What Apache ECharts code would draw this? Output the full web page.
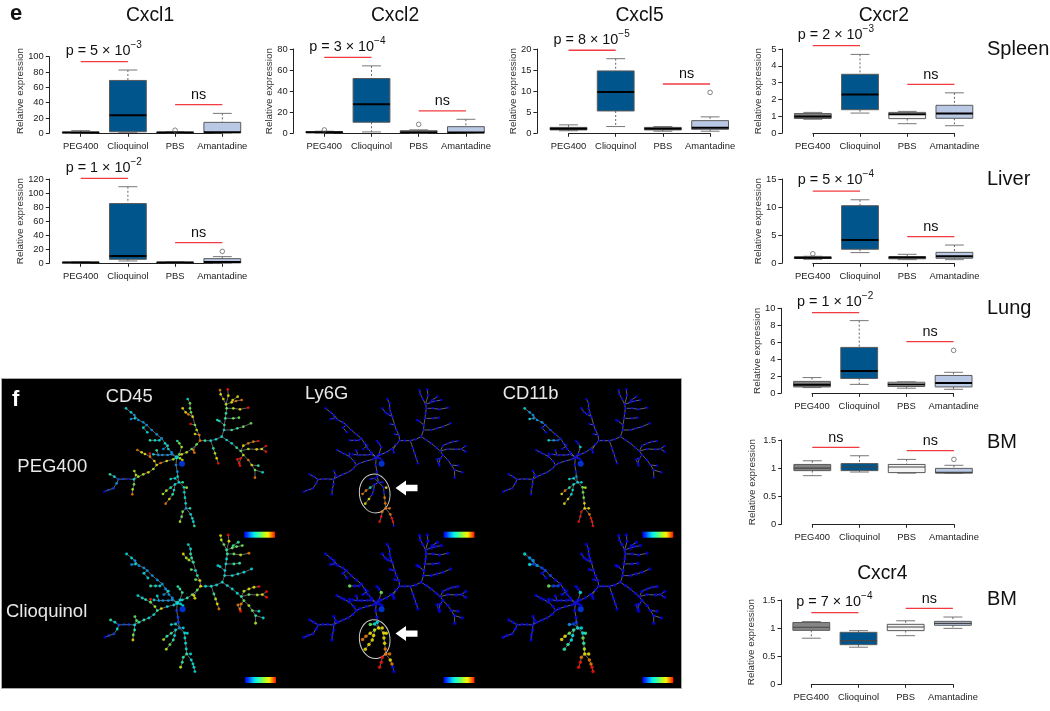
<!DOCTYPE html>
<html><head><meta charset="utf-8">
<style>html,body{margin:0;padding:0;background:#fff}#c{width:1050px;height:711px}</style>
<script src="https://cdn.jsdelivr.net/npm/echarts@6/dist/echarts.min.js"></script>
</head><body><div id="c"></div>
<script>
const categories = ['PEG400','Clioquinol','PBS','Amantadine'];
const boxColors = ['#858585','#00568c','#f4f4f4','#b9c8e4'];

// [min, q1, median, q3, max] for each group
const cxcl1Spleen = [[0.3,0.5,1,1.5,3.5],[1.3,2,23.5,69,82.6],[0.3,0.5,1,1.5,2],[0.5,0.8,1.3,14.3,26]];
const cxcl2Spleen = [[0.3,0.6,1,1.5,2],[1.3,10.5,27.5,52,64],[0.3,0.5,1,2.5,3.3],[0.3,0.5,0.8,6.3,13.3]];
const cxcl5Spleen = [[0.6,0.8,1.1,1.4,2],[1.6,5.3,9.8,14.8,17.7],[0.5,0.8,1.1,1.4,1.6],[0.5,0.95,1.3,3,3.9]];
const cxcr2Spleen = [[0.83,0.88,1,1.17,1.24],[1.2,1.4,2.3,3.5,4.68],[0.57,0.87,1.13,1.24,1.3],[0.45,0.89,1.17,1.66,2.4]];
const cxcl1Liver = [[0.3,0.5,1,1.5,2],[3.3,5.7,10.5,85,109],[0.3,0.5,1,1.5,2],[0.3,0.5,2,6.6,9.5]];
const cxcr2Liver = [[0.7,0.85,1,1.15,1.25],[1.9,2.5,4.15,10.25,11.3],[0.65,0.8,1.05,1.2,1.6],[0.65,0.9,1.25,1.95,3.25]];
const cxcr2Lung = [[0.67,0.75,1,1.4,1.85],[1.05,1.75,2.63,5.4,8.55],[0.6,0.8,1.05,1.3,1.35],[0.47,0.75,1.2,2.1,2.47]];
const cxcr2BM = [[0.865,0.955,1,1.065,1.13],[0.93,0.955,1.02,1.08,1.22],[0.91,0.92,1.02,1.065,1.155],[0.905,0.91,0.925,0.995,1.05]];
const cxcr4BM = [[0.82,0.96,1.015,1.1,1.115],[0.66,0.705,0.777,0.925,0.955],[0.865,0.955,1.02,1.067,1.13],[0.995,1.05,1.085,1.12,1.197]];

// outliers: [group position, value]
const cxcl1SpleenOut = [[3,4]];
const cxcl2SpleenOut = [[1,3.2],[3,8.5]];
const cxcl5SpleenOut = [[4,9.7]];
const cxcr2SpleenOut = [];
const cxcl1LiverOut = [[4,17]];
const cxcr2LiverOut = [[1,1.7]];
const cxcr2LungOut = [[4,5.05]];
const cxcr2BMOut = [[4,1.155]];
const cxcr4BMOut = [];

// significance bars: [from, to, value, text, exponent]
const cxcl1SpleenSig = [[1,2,93.5,'p = 5 × 10','−3'],[3,4,37.4,'ns','']];
const cxcl2SpleenSig = [[1,2,72,'p = 3 × 10','−4'],[3,4,21.2,'ns','']];
const cxcl5SpleenSig = [[1,2,19.7,'p = 8 × 10','−5'],[3,4,11.7,'ns','']];
const cxcr2SpleenSig = [[1,2,5.2,'p = 2 × 10','−3'],[3,4,2.9,'ns','']];
const cxcl1LiverSig = [[1,2,121,'p = 1 × 10','−2'],[3,4,29.4,'ns','']];
const cxcr2LiverSig = [[1,2,12.86,'p = 5 × 10','−4'],[3,4,4.74,'ns','']];
const cxcr2LungSig = [[1,2,9.5,'p = 1 × 10','−2'],[3,4,6.08,'ns','']];
const cxcr2BMSig = [[1,2,1.37,'ns',''],[3,4,1.31,'ns','']];
const cxcr4BMSig = [[1,2,1.275,'p = 7 × 10','−4'],[3,4,1.35,'ns','']];

// Spanning tree layout (shared by all six maps). First point of each branch is its attachment point.
const treeHub = [530,247];
const treeSink = [546,266];
const treeBranches = {
 A:[[530,247],[515,232],[505,222],[495,205],[485,190],[470,178],[455,165],[440,150],[430,142],[415,135],[403,120],[393,112],[378,100]],
 A1:[[403,120],[405,130],[393,132]],
 A2:[[440,150],[430,158],[442,172]],
 A3:[[485,190],[478,196],[465,196],[450,196]],
 A4:[[495,205],[503,212],[490,222]],
 A5:[[530,247],[515,238],[503,240],[487,240],[475,240],[460,238]],
 A6:[[475,240],[470,226]],
 T:[[530,247],[538,238],[545,216],[538,205],[532,198]],
 T1:[[530,247],[540,250],[547,255]],
 B:[[530,247],[520,253],[500,258],[482,264],[470,270],[460,282],[445,292],[430,298],[415,305],[402,313],[385,312],[370,312],[355,313],[350,325],[340,340],[325,345],[313,350]],
 B1:[[355,313],[343,305],[330,298]],
 B2:[[402,313],[408,300],[403,288]],
 B3:[[402,313],[402,328],[398,343],[397,358]],
 B4:[[470,270],[463,258],[450,245],[435,237],[425,232],[412,225]],
 B5:[[450,245],[450,236]],
 C:[[530,247],[528,270],[532,290],[533,305],[537,322],[552,337],[553,352],[555,368],[557,385],[558,400],[572,418],[577,430],[580,440],[583,453]],
 C1:[[537,322],[525,310],[512,312]],
 C2:[[537,322],[525,328],[512,338],[499,347],[489,357]],
 C3:[[525,328],[522,345],[518,358],[508,372],[497,386]],
 C4:[[552,337],[560,338]],
 C5:[[537,322],[548,322]],
 C6:[[558,400],[548,410],[545,425],[540,440]],
 C7:[[558,400],[570,400]],
 D:[[530,247],[545,238],[560,232],[575,222],[590,208],[600,197],[615,197],[632,197],[648,193],[665,185]],
 D1:[[590,208],[580,225],[583,233]],
 D2:[[600,197],[598,180],[590,165],[585,150],[578,125],[573,112],[570,100],[570,85],[563,72]],
 D3:[[585,150],[572,147]],
 D4:[[598,180],[585,177]],
 D5:[[578,125],[565,118],[557,112],[548,100]],
 D6:[[632,197],[640,220],[645,235],[650,250],[655,265]],
 E:[[665,185],[672,165],[673,150],[676,130],[678,115],[680,100],[678,88],[670,72],[662,58],[660,45]],
 E1:[[678,88],[685,62],[683,43]],
 E2:[[678,88],[695,82],[708,78],[725,75]],
 E3:[[690,85],[698,75],[713,65]],
 E4:[[680,100],[700,100],[720,103],[745,98]],
 E5:[[676,130],[700,130],[717,128]],
 E6:[[673,150],[658,138],[652,135]],
 E7:[[672,165],[695,165],[712,160],[730,155],[753,145]],
 F:[[665,185],[680,195],[695,205],[710,218],[722,228],[730,240],[745,255],[755,270],[765,285],[788,292]],
 F1:[[722,228],[730,212],[745,205],[760,200],[775,198]],
 F2:[[722,228],[745,222],[770,223],[785,222],[798,213]],
 F3:[[785,222],[798,230]],
 F4:[[730,240],[722,250],[712,253],[720,272]],
 F5:[[722,250],[718,265]],
 F6:[[765,285],[765,308]],
 F7:[[755,270],[775,272]]
};

// Marker intensity per branch node, digits 0 (low) to 9 (high); absent branches are all low.
const cd45Peg = {A:'233222222233',A1:'32',A2:'33',A3:'334',A4:'32',A5:'22223',A6:'4',T:'5654',T1:'67',
 B:'6787676630112110',B1:'34',B2:'66',B3:'568',B4:'78778',B5:'9',
 C:'2233333323334',C1:'33',C2:'3466',C3:'3478',C4:'6',C5:'4',C6:'556',C7:'4',
 D:'765584333',D1:'88',D2:'86575553',D3:'9',D4:'7',D5:'877',D6:'4679',
 E:'344456778',E1:'79',E2:'788',E3:'77',E4:'679',E5:'55',E6:'34',E7:'4455',
 F:'334568753',F1:'7889',F2:'6779',F3:'9',F4:'999',F5:'9',F6:'8',F7:'4'};
const cd45Clio = {A:'222222222233',A1:'32',A2:'33',A3:'334',A4:'32',A5:'22223',A6:'3',T:'3444',T1:'33',
 B:'3374334431113110',B1:'34',B2:'55',B3:'457',B4:'65433',B5:'9',
 C:'1112333343333',C1:'33',C2:'3446',C3:'3456',C4:'3',C5:'3',C6:'446',C7:'3',
 D:'345573333',D1:'77',D2:'74344433',D3:'5',D4:'5',D5:'667',D6:'4678',
 E:'333344567',E1:'79',E2:'555',E3:'44',E4:'568',E5:'44',E6:'33',E7:'3333',
 F:'333456543',F1:'6779',F2:'5679',F3:'9',F4:'889',F5:'8',F6:'6',F7:'3'};
const ly6gPeg = {C:'0000008888990',C2:'0388',C3:'0077',C4:'7',C6:'899',C7:'8'};
const ly6gClio = {A3:'005',T:'0500',C:'0037777887800',C1:'35',C2:'6788',C3:'7777',C4:'7',C5:'7',C6:'999',C7:'8'};
const cd11bPeg = {A:'000001122223',A1:'23',A3:'123',T:'0300',C:'0023555778999',C1:'33',C2:'3487',C3:'3377',C4:'6',C5:'3',C6:'999',C7:'7'};
const cd11bClio = {A:'000001112223',A1:'13',A3:'115',T:'0300',C:'0013354678899',C1:'12',C2:'4577',C3:'3344',C4:'4',C5:'3',C6:'899',C7:'7'};
const hubLevels = {cd45Peg:3,cd45Clio:3,ly6gPeg:0,ly6gClio:0,cd11bPeg:0,cd11bClio:0};
const sinkLevel = 1;

const jet = ['#0000e6','#0040ff','#00a0ff','#00f0f0','#30ffb0','#70ff60','#c0ff20','#ffee00','#ff8000','#ff1000'];
const FONT = 'Liberation Sans';
const TXT = '#222';

const panels = [
 {box:cxcl1Spleen,out:cxcl1SpleenOut,sig:cxcl1SpleenSig,l:80.7,t:56.7,h:76.6,ax:49.3,gap:24,max:100,step:20,up:8},
 {box:cxcl2Spleen,out:cxcl2SpleenOut,sig:cxcl2SpleenSig,l:324.3,t:49,h:84.3,ax:293.3,gap:19.4,max:80,step:20},
 {box:cxcl5Spleen,out:cxcl5SpleenOut,sig:cxcl5SpleenSig,l:568.5,t:49,h:84.3,ax:536.9,gap:18.5,max:20,step:5},
 {box:cxcr2Spleen,out:cxcr2SpleenOut,sig:cxcr2SpleenSig,l:812.8,t:49,h:84.3,ax:781.9,gap:18.6,max:5,step:1},
 {box:cxcl1Liver,out:cxcl1LiverOut,sig:cxcl1LiverSig,l:80.7,t:179,h:84.3,ax:49.3,gap:24,max:120,step:20},
 {box:cxcr2Liver,out:cxcr2LiverOut,sig:cxcr2LiverSig,l:812.8,t:179,h:84.3,ax:781.9,gap:19,max:15,step:5},
 {box:cxcr2Lung,out:cxcr2LungOut,sig:cxcr2LungSig,l:812,t:308.3,h:85,ax:781,gap:18.7,max:10,step:2},
 {box:cxcr2BM,out:cxcr2BMOut,sig:cxcr2BMSig,l:812.3,t:440,h:84.3,ax:781.7,gap:24.4,max:1.5,step:0.5,thin:true},
 {box:cxcr4BM,out:cxcr4BMOut,sig:cxcr4BMSig,l:811.3,t:600,h:84.3,ax:781,gap:24.3,max:1.5,step:0.5,thin:true}
];
const maps = [
 {name:'cd45Peg',v:cd45Peg,dx:0,dy:0,size:2.7},
 {name:'ly6gPeg',v:ly6gPeg,dx:199.6,dy:0,size:2.7},
 {name:'cd11bPeg',v:cd11bPeg,dx:398.7,dy:0,size:2.7},
 {name:'cd45Clio',v:cd45Clio,dx:0.6,dy:145.6,size:2.9},
 {name:'ly6gClio',v:ly6gClio,dx:199.6,dy:145.6,size:3.5},
 {name:'cd11bClio',v:cd11bClio,dx:398.7,dy:145.6,size:3.5}
];

const grid=[], xAxis=[], yAxis=[], series=[];

function boxItem(thin){
 return function(params, api){
  const x = api.value(0), lo=api.value(1), q1=api.value(2), med=api.value(3), q3=api.value(4), hi=api.value(5);
  const hw = 0.39, cw = 0.2;
  const L = api.coord([x-hw,q3]), R = api.coord([x+hw,q1]);
  const seg = (a,b,style)=>({type:'line',shape:{x1:a[0],y1:a[1],x2:b[0],y2:b[1]},style:style});
  const whisk = {stroke:'#555',lineWidth:0.9,lineDash:[2,2]};
  const cap = {stroke:'#777',lineWidth:1};
  return {type:'group',children:[
   seg(api.coord([x,hi]),api.coord([x,q3]),whisk),
   seg(api.coord([x,q1]),api.coord([x,lo]),whisk),
   seg(api.coord([x-cw,hi]),api.coord([x+cw,hi]),cap),
   seg(api.coord([x-cw,lo]),api.coord([x+cw,lo]),cap),
   {type:'rect',shape:{x:L[0],y:L[1],width:R[0]-L[0],height:R[1]-L[1]},
    style:{fill:boxColors[x-1],stroke:'#5a5a5a',lineWidth:1}},
   seg(api.coord([x-hw,med]),api.coord([x+hw,med]),{stroke:thin?'#444':'#000',lineWidth:thin?1.2:2})
  ]};
 };
}
function sigItem(params, api){
 const a=api.coord([api.value(0),api.value(2)]), b=api.coord([api.value(1),api.value(2)]);
 const text=api.value(3), exp=api.value(4);
 const isP = text!=='ns';
 return {type:'group',children:[
  {type:'line',shape:{x1:a[0],y1:a[1],x2:b[0],y2:b[1]},style:{stroke:'#f23b40',lineWidth:1.3}},
  {type:'text',x:isP?a[0]-15:(a[0]+b[0])/2,y:a[1]-(isP?12.5:11.5),style:{
    text:isP?'{a|'+text+'}{b|'+exp+'}':'{a|'+text+'}',
    align:isP?'left':'center',verticalAlign:'middle',
    rich:{a:{fontFamily:FONT,fontSize:14.4,fill:'#111',lineHeight:18,verticalAlign:'bottom'},
          b:{fontFamily:FONT,fontSize:10,fill:'#111',lineHeight:18,verticalAlign:'top',padding:[0,0,5,0]}}
  }}
 ]};
}

panels.forEach(p=>{
 const i=grid.length;
 grid.push({left:p.l,top:p.t,width:141.6,height:p.h,containLabel:false});
 xAxis.push({gridIndex:i,type:'value',min:1,max:4,interval:1,offset:3.4,position:'bottom',
  axisLine:{show:true,lineStyle:{color:'#222',width:1}},axisTick:{show:true,length:3.5,lineStyle:{color:'#222',width:1}},
  splitLine:{show:false},
  axisLabel:{show:true,showMinLabel:true,showMaxLabel:true,margin:5,fontFamily:FONT,fontSize:9.4,color:TXT,formatter:v=>categories[v-1]}});
 yAxis.push({gridIndex:i,type:'value',min:0,max:p.max,interval:p.step,offset:p.l-p.ax,position:'left',
  name:'Relative expression',nameLocation:'middle',nameGap:p.gap,nameRotate:90,nameMoveOverlap:false,
  nameTextStyle:{fontFamily:FONT,fontSize:9.9,color:'#333',padding:p.up?[0,0,0,p.up]:0},
  axisLine:{show:true,lineStyle:{color:'#222',width:1}},axisTick:{show:true,length:3.5,lineStyle:{color:'#222',width:1}},
  splitLine:{show:false},
  axisLabel:{margin:5.5,fontFamily:FONT,fontSize:9.4,color:TXT}});
 series.push({type:'custom',xAxisIndex:i,yAxisIndex:i,clip:false,silent:true,z:3,
  encode:{x:0,y:[1,2,3,4,5]},renderItem:boxItem(p.thin),
  data:p.box.map((b,k)=>[k+1].concat(b))});
 if(p.out.length) series.push({type:'scatter',xAxisIndex:i,yAxisIndex:i,clip:false,silent:true,z:4,
  symbol:'circle',symbolSize:4.6,itemStyle:{color:'rgba(255,255,255,0)',borderColor:'#555',borderWidth:0.9},data:p.out});
 series.push({type:'custom',xAxisIndex:i,yAxisIndex:i,clip:false,silent:true,z:5,
  encode:{x:[0,1],y:2},renderItem:sigItem,
  dimensions:['a','b','v',{name:'t',type:'ordinal'},{name:'e',type:'ordinal'}],
  data:p.sig});
});

const scatterIdx=[];
maps.forEach(m=>{
 const i=grid.length;
 grid.push({left:100+m.dx,top:385+m.dy,width:170,height:143.33});
 xAxis.push({gridIndex:i,type:'value',min:300,max:810,show:false,splitLine:{show:false}});
 yAxis.push({gridIndex:i,type:'value',min:30,max:460,inverse:true,show:false,splitLine:{show:false}});
 const lineData=[], pts=[];
 Object.keys(treeBranches).forEach(k=>{
  const b=treeBranches[k], s=m.v[k]||'';
  lineData.push({coords:b});
  b.slice(1).forEach((pt,n)=>pts.push([pt[0],pt[1],+(s[n]||0)]));
 });
 series.push({type:'lines',coordinateSystem:'cartesian2d',xAxisIndex:i,yAxisIndex:i,polyline:true,silent:true,z:3,
  lineStyle:{color:'#6e6e6e',width:0.9,opacity:1},data:lineData});
 scatterIdx.push(series.length);
 series.push({type:'scatter',xAxisIndex:i,yAxisIndex:i,clip:false,silent:true,z:4,symbolSize:m.size,data:pts});
 scatterIdx.push(series.length);
 series.push({type:'scatter',xAxisIndex:i,yAxisIndex:i,clip:false,silent:true,z:4,symbolSize:m.size+1.4,
  data:[[treeHub[0],treeHub[1],hubLevels[m.name]]]});
 scatterIdx.push(series.length);
 series.push({type:'scatter',xAxisIndex:i,yAxisIndex:i,clip:false,silent:true,z:4,symbolSize:6,
  data:[[treeSink[0],treeSink[1],sinkLevel]]});
});

function label(text,x,y,size,opt){
 return Object.assign({type:'text',x:x,y:y,z:10,silent:true,style:Object.assign({text:text,fontFamily:FONT,fontSize:size,fill:'#111',
  align:'left',verticalAlign:'middle'},opt||{})});
}
const W='#e8e8e8';
const gradient=()=>new echarts.graphic.LinearGradient(0,0,1,0,jet.map((c,i)=>({offset:i/9,color:c})));
const graphic=[
 {type:'rect',z:-1,silent:true,shape:{x:1.5,y:378.5,width:680,height:310},style:{fill:'#000',stroke:'#aaa',lineWidth:1}},
 label('e',10,14,22,{fontWeight:'bold'}),
 label('f',12,400,22,{fontWeight:'bold',fill:'#fff'}),
 label('Cxcl1',150,16,19.3,{align:'center'}),
 label('Cxcl2',395,16,19.3,{align:'center'}),
 label('Cxcl5',639.5,16,19.3,{align:'center'}),
 label('Cxcr2',883.8,16,19.3,{align:'center'}),
 label('Cxcr4',882.3,574,19.3,{align:'center'}),
 label('Spleen',987,49,20),
 label('Liver',987,179.5,20),
 label('Lung',987,308,20),
 label('BM',987,442.5,20),
 label('BM',987,599,20),
 label('CD45',105.7,396.5,18.4,{fill:W}),
 label('Ly6G',305,394,18.4,{fill:W}),
 label('CD11b',502.7,394,18.4,{fill:W}),
 label('PEG400',17.3,466.5,18.5,{fill:W}),
 label('Clioquinol',6,612,18.5,{fill:W})
];
[[244,531.7],[443.5,531.7],[642.3,531.7],[245,677],[443.5,677],[642.3,677]].forEach(b=>{
 graphic.push({type:'rect',z:10,silent:true,shape:{x:b[0],y:b[1],width:31,height:6},style:{fill:gradient()}});
});
[0,145.6].forEach(dy=>{
 graphic.push({type:'ellipse',z:1,silent:true,shape:{cx:374.7,cy:493.5+dy,rx:15.3,ry:19.5},rotation:0.12,originX:374.7,originY:493.5+dy,
  style:{fill:'none',stroke:'#ccc',lineWidth:1}});
 const y=488+dy;
 graphic.push({type:'polygon',z:10,silent:true,shape:{points:[[395.5,y],[406,y-7.5],[406,y-3.2],[417.5,y-3.2],[417.5,y+3.2],[406,y+3.2],[406,y+7.5]]},style:{fill:'#fff'}});
});

const chart=echarts.init(document.getElementById('c'),null,{renderer:'canvas'});
chart.setOption({
 animation:false,backgroundColor:'#fff',
 grid,xAxis,yAxis,series,graphic,
 visualMap:[{type:'continuous',show:false,min:0,max:9,dimension:2,seriesIndex:scatterIdx,inRange:{color:jet}}]
});
</script></body></html>
